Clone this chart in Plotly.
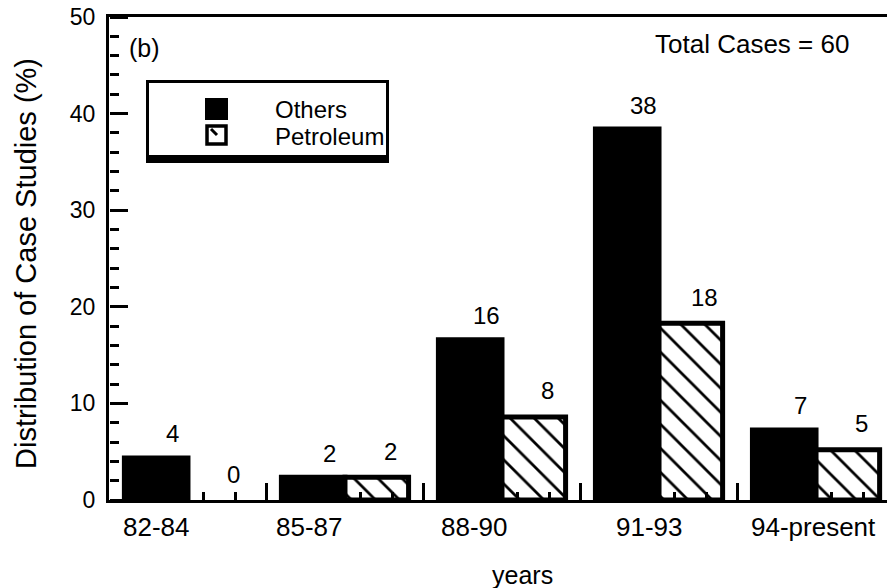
import plotly.graph_objects as go

# ---- data ----
categories = ["82-84", "85-87", "88-90", "91-93", "94-present"]
others_values = [4.35, 2.35, 16.6, 38.4, 7.25]
petroleum_values = [0.0, 2.35, 8.6, 18.3, 5.2]
others_labels = ["4", "2", "16", "38", "7"]
petroleum_labels = ["0", "2", "8", "18", "5"]

# ---- layout geometry (pixels) ----
W, H = 887, 588
L, R, T, B = 109, 0, 17, 88
PW, PH = W - L - R, H - T - B
FONT = "Liberation Sans, Arial, Helvetica, sans-serif"
XR = [-0.503, 4.452]
YR = [0, 50]


def px(xp):
    return (xp - L) / PW


def py(yp):
    return (H - B - yp) / PH


xs = list(range(len(categories)))
bargap = 0.19
half = (1 - bargap) / 4  # offset of each bar centre from the group centre
LW = 5

fig = go.Figure()
fig.add_trace(go.Bar(
    x=xs, y=others_values, name="Others",
    marker=dict(color="black",
                line=dict(color="black", width=[LW if v else 0 for v in others_values])),
    showlegend=False, hoverinfo="x+y",
))
fig.add_trace(go.Bar(
    x=xs, y=petroleum_values, name="Petroleum",
    marker=dict(color="white",
                line=dict(color="black", width=[LW if v else 0 for v in petroleum_values]),
                pattern=dict(shape="\\", fgcolor="black", bgcolor="white",
                             fgopacity=1, size=17, solidity=0.16,
                             fillmode="replace")),
    showlegend=False, hoverinfo="x+y",
))
# carrier traces for the tick-only axes
for xa, ya in (("x2", "y2"), ("x2", "y3")):
    fig.add_trace(go.Scatter(x=[None], y=[None], xaxis=xa, yaxis=ya,
                             showlegend=False, hoverinfo="skip"))

ann = []
# value labels above bars
for i, (v, t) in enumerate(zip(others_values, others_labels)):
    ann.append(dict(x=xs[i] - half, y=v, xref="x", yref="y", text=t,
                    showarrow=False, xshift=16, yshift=24, xanchor="center",
                    yanchor="middle", font=dict(size=24)))
for i, (v, t) in enumerate(zip(petroleum_values, petroleum_labels)):
    ann.append(dict(x=xs[i] + half, y=v, xref="x", yref="y", text=t,
                    showarrow=False, xshift=14, yshift=26, xanchor="center",
                    yanchor="middle", font=dict(size=24)))

# category labels (placed slightly left of group centre, as in the original)
cat_shift = [-31, -35, -28, -10, -3]
for i, c in enumerate(categories):
    ann.append(dict(x=xs[i], y=py(527), xref="x", yref="paper", text=c,
                    showarrow=False, xshift=cat_shift[i], xanchor="center",
                    yanchor="middle", font=dict(size=26)))

ann.append(dict(x=px(522), y=py(575), xref="paper", yref="paper", text="years",
                showarrow=False, xanchor="center", yanchor="middle",
                font=dict(size=25)))
ann.append(dict(x=px(26), y=py(264), xref="paper", yref="paper",
                text="Distribution of Case Studies (%)", textangle=-90,
                showarrow=False, xanchor="center", yanchor="middle",
                font=dict(size=29)))
ann.append(dict(x=px(144), y=py(48), xref="paper", yref="paper", text="(b)",
                showarrow=False, xanchor="center", yanchor="middle",
                font=dict(size=25)))
ann.append(dict(x=px(752), y=py(44), xref="paper", yref="paper",
                text="Total Cases = 60", showarrow=False, xanchor="center",
                yanchor="middle", font=dict(size=26)))
# legend texts
ann.append(dict(x=px(273), y=py(109), xref="paper", yref="paper", text="Others",
                showarrow=False, xanchor="left", yanchor="middle",
                font=dict(size=24)))
ann.append(dict(x=px(273), y=py(136), xref="paper", yref="paper", text="Petroleum",
                showarrow=False, xanchor="left", yanchor="middle",
                font=dict(size=24)))

shapes = []
# legend box with drop shadow
shapes.append(dict(type="rect", xref="paper", yref="paper",
                   x0=px(146), x1=px(389), y0=py(80), y1=py(163),
                   fillcolor="black", line=dict(width=0)))
shapes.append(dict(type="rect", xref="paper", yref="paper",
                   x0=px(149), x1=px(386), y0=py(83), y1=py(155),
                   fillcolor="white", line=dict(width=0)))
# legend symbols
shapes.append(dict(type="rect", xref="paper", yref="paper",
                   x0=px(205), x1=px(228), y0=py(98), y1=py(120),
                   fillcolor="black", line=dict(width=0)))
shapes.append(dict(type="rect", xref="paper", yref="paper",
                   x0=px(207), x1=px(226), y0=py(126), y1=py(144),
                   fillcolor="white", line=dict(color="black", width=3.5)))
shapes.append(dict(type="line", xref="paper", yref="paper",
                   x0=px(211), x1=px(217), y0=py(129), y1=py(135),
                   line=dict(color="black", width=3)))

tick_common = dict(showticklabels=False, layer="above traces",
                   tickcolor="black", showline=False, showgrid=False,
                   zeroline=False, fixedrange=True)

fig.update_layout(
    width=W, height=H,
    margin=dict(l=L, r=R, t=T, b=B, pad=0),
    paper_bgcolor="white", plot_bgcolor="white",
    font=dict(family=FONT, size=23, color="black"),
    barmode="group", bargap=bargap, bargroupgap=0,
    showlegend=False,
    annotations=ann, shapes=shapes,
    xaxis=dict(range=XR, tickmode="linear", tick0=0.5, dtick=1,
               showticklabels=False, layer="above traces",
               ticks="inside", ticklen=17, tickwidth=3, tickcolor="black",
               showline=True, linecolor="black", linewidth=3, mirror=True,
               showgrid=False, zeroline=False, fixedrange=True),
    yaxis=dict(range=YR, tickmode="linear", tick0=0, dtick=10, ticks="",
               showline=True, linecolor="black", linewidth=3,
               showgrid=False, zeroline=False, ticklabelstandoff=6,
               tickfont=dict(size=23), fixedrange=True),
    # minor x ticks
    xaxis2=dict(overlaying="x", anchor="y", side="bottom", range=XR,
                tickmode="linear", tick0=-0.5, dtick=0.2,
                ticks="inside", ticklen=8, tickwidth=2.5, **tick_common),
    # y ticks: right-side axes pinned to the left edge, ticks pointing into the plot
    yaxis2=dict(overlaying="y", anchor="free", position=0, side="right",
                range=YR, tickmode="linear", tick0=0, dtick=10,
                ticks="outside", ticklen=18, tickwidth=3, **tick_common),
    yaxis3=dict(overlaying="y", anchor="free", position=0, side="right",
                range=YR, tickmode="linear", tick0=0, dtick=2,
                ticks="outside", ticklen=9, tickwidth=3, **tick_common),
)

fig.write_html("out.html")
